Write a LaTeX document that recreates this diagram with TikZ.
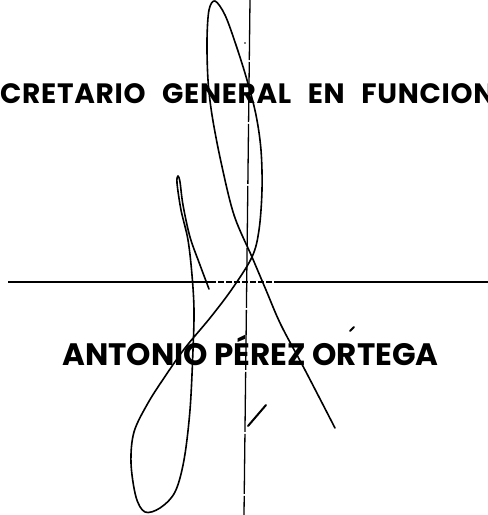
\documentclass[tikz,border=0pt]{standalone}
\usepackage{fontspec}
\setmainfont{Poppins}
\newfontfamily\cargofont{Poppins}[WordSpace=2.5,LetterSpace=2.5]
\usepackage{tikz}
\usetikzlibrary{positioning,calc}

\begin{document}
\begin{tikzpicture}
      [x=1pt,y=-1pt,
       cargotext/.style={inner sep=0pt,anchor=base west,
         font=\fontsize{28}{30}\cargofont\bfseries},
       nombretext/.style={inner sep=0pt,anchor=base west,font=\fontsize{31}{33}\selectfont\bfseries},
       rule/.style={line width=2.4pt},
       guide/.style={line width=1.3pt,dash pattern=on 60pt off 2pt},
       sig/.style={line width=1.6pt,line cap=round,line join=round}]
      \useasboundingbox (0,0) rectangle (488,515);

      \node (cargo) at (0,103) [cargotext] {CRETARIO GENERAL EN FUNCION};
      \node (nombre) at (62,365) [nombretext] {ANTONIO PÉREZ ORTEGA};

      \coordinate (R1) at (8,282);
      \coordinate (R2) at (210,282);
      \coordinate (R3) at (277,282);
      \coordinate (R4) at (488,282);
      \draw[rule] (R1) -- (R2);
      \draw[line width=1.2pt, dash pattern=on 6pt off 2pt] (R2) -- (R3);
      \draw[rule] (R3) -- (R4);

      \coordinate (V1) at (250,0);
      \coordinate (V2) at (244,515);
      \draw[guide] (V1) -- (V2);

      \draw[sig] plot[smooth, tension=0.55] coordinates {
        (209,289) (200,265) (190,237) (183,205) (180,182) (178,176)
        (177,183) (181,210) (188,240) (192,275) (194,310) (193,350)
        (190,410) (184,460) (175,492) (160,508) (145,512) (136,497)
        (131,463) (134,432) (148,403) (166,375) (185,348) (210,318)
        (232,289) (252,257) (259,230) (262,190) (261,150) (256,115)
        (247,80) (236,45) (225,15) (215,1) (209,10) (207,40) (208,80)
        (212,115) (221,162) (234,215) (252,257) (266,290) (281,325)
        (305,370) (335,428)};
      \draw[sig, line width=2pt] (248,426) -- (266,405);
      \draw[sig, line width=2pt] (350,331) -- (354,327);
      \fill (245,43) circle (0.8pt);
      \end{tikzpicture}
\end{document}
